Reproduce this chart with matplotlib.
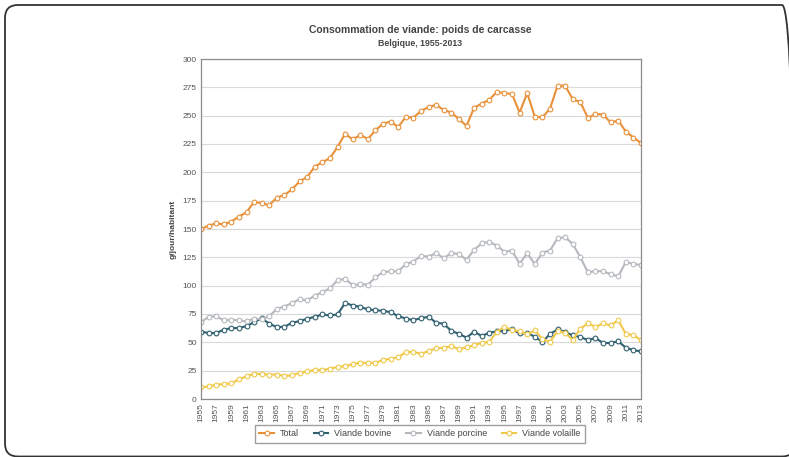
import matplotlib
matplotlib.use("Agg")
import matplotlib.pyplot as plt
from matplotlib.patches import FancyBboxPatch

# ========== DATA ==========
years = list(range(1955, 2014))

total = [150, 153, 155, 154, 156.5, 161, 164.7, 174, 172.7, 171,
         177.7, 180, 185, 192, 196, 205, 209, 212.5, 222.5, 234,
         229, 233, 229.5, 237, 243, 244.8, 240, 249, 248.3, 254,
         257.7, 259.5, 255, 252.7, 247, 241, 257, 260.6, 264, 271,
         270, 269, 252.7, 270, 249, 248.6, 256, 276.5, 276.5, 264.5,
         262, 248, 251.5, 251, 244, 245.7, 236, 230.7, 226]

bovine = [59.4, 58.2, 58.2, 61.1, 62.6, 62.6, 64.3, 67.8, 71.3, 66.4,
          63.5, 63.7, 67.3, 68.7, 70.8, 72.5, 74.6, 73.7, 74.6, 84.8,
          82.5, 81.3, 79, 78.4, 77.8, 76.6, 73.1, 71, 69.6, 71.3,
          72.5, 67.3, 66.4, 60, 57.6, 54.1, 59.4, 55.6, 58.5, 59.6,
          60.2, 61.4, 57.9, 58.2, 55, 50.3, 57.3, 61.4, 59.1, 56.1,
          54.7, 52, 53.8, 49.4, 49.4, 50.9, 45.3, 43, 42.1]

porcine = [67.8, 72.5, 73, 69.3, 70, 69.3, 68.4, 71, 70.5, 73,
           79.5, 81.6, 84.8, 88, 87.1, 91.2, 94.2, 97.7, 104.7, 106.1,
           100.3, 101.5, 100.9, 107.3, 112, 112.6, 112.6, 119, 121.3, 126.3,
           125.7, 128.7, 124.3, 128.7, 128, 122.8, 131.6, 137.4, 138.6, 135.4,
           129.8, 131, 119.3, 128.7, 119, 129.2, 131, 141.8, 142.7, 136.8,
           125.1, 111.7, 112.9, 112.6, 110.2, 108.2, 121, 119, 118.4]

volaille = [10.2, 11.1, 12.6, 13.2, 13.7, 17.5, 19.9, 22.5, 21.9, 21.6,
            21.6, 20.5, 20.8, 23.1, 24.3, 25.7, 25.7, 26.6, 28.4, 28.9,
            30.7, 32.2, 31.6, 32.2, 34.2, 35.7, 36.8, 41.5, 41.5, 39.8,
            42.4, 44.7, 45.3, 46.5, 43.9, 45.6, 47.4, 49.7, 50.3, 59.4,
            63.7, 60.8, 59.9, 57, 60.5, 53.2, 50.3, 59.9, 58.5, 52,
            62, 66.7, 63.7, 66.7, 64.9, 69.6, 57.3, 56.4, 52]

series_names = ["Total", "Viande bovine", "Viande porcine", "Viande volaille"]
series_colors = ["#E8913A", "#2F6070", "#B5B9BE", "#F0C94A"]
y_ticks = list(range(0, 301, 25))
x_ticks = list(range(1955, 2014, 2))

# ========== FIGURE ==========
plt.rcParams['font.family'] = ['Liberation Sans', 'DejaVu Sans']
W, H = 789, 457
fig = plt.figure(figsize=(W / 100, H / 100), dpi=100)

# cadre arrondi (coordonnees en pixels, origine en bas)
frame = FancyBboxPatch((5, H - 456.5), 790, 451.5,
                       boxstyle="round,pad=0,rounding_size=13",
                       transform=None, facecolor="none",
                       edgecolor="#333333", linewidth=1.3, clip_on=False)
fig.patches.append(frame)

ax = fig.add_axes([201 / W, 58 / H, 440 / W, 340 / H])

for vals, name, col in zip([total, bovine, porcine, volaille], series_names, series_colors):
    ax.plot(years, vals, color=col, linewidth=1.5, marker="o", markersize=3.4,
            markerfacecolor="white", markeredgecolor=col, markeredgewidth=0.8,
            label=name)

ax.set_xlim(1955, 2013)
ax.set_ylim(0, 300)
ax.set_yticks(y_ticks)
ax.set_xticks(x_ticks)
ax.set_xticklabels([str(y) for y in x_ticks], rotation=90)
ax.tick_params(axis="both", labelsize=6, colors="#555555", length=0, pad=3)
ax.grid(axis="y", color="#D9D9D9", linewidth=0.8)
ax.set_axisbelow(True)
for sp in ax.spines.values():
    sp.set_color("#8C8C8C")
    sp.set_linewidth(0.9)

ax.set_ylabel("g/jour/habitant", fontsize=6, fontweight="bold", color="#444444", labelpad=4)

fig.text(420 / W, 1 - 30 / H, "Consommation de viande: poids de carcasse",
         ha="center", va="center", fontsize=7.5, fontweight="bold", color="#444444")
fig.text(420 / W, 1 - 44 / H, "Belgique, 1955-2013",
         ha="center", va="center", fontsize=6.3, fontweight="bold", color="#444444")

leg = fig.legend(loc="center", bbox_to_anchor=(420 / W, 1 - 434 / H), ncol=4,
                 fontsize=6.5, frameon=True, fancybox=False, edgecolor="#888888",
                 handlelength=1.6, handletextpad=0.7, columnspacing=1.6,
                 borderpad=0.45)
for t in leg.get_texts():
    t.set_color("#444444")

fig.savefig("out.png", dpi=100)
